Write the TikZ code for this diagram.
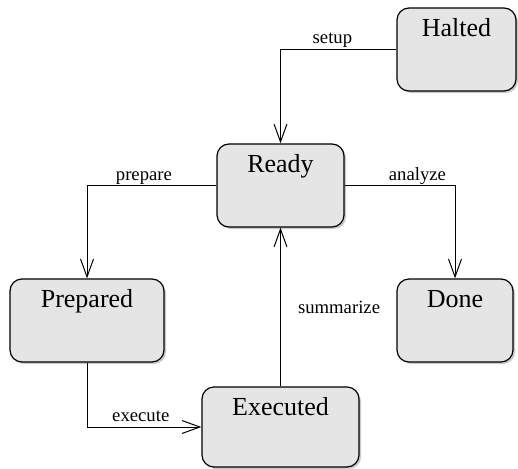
\documentclass[tikz,border=0pt]{standalone}
\usepackage{fontspec}
\setmainfont{Liberation Serif}
\usetikzlibrary{arrows.meta,shadows}
\begin{document}
\begin{tikzpicture}[x=1pt,y=-1pt,
  state/.style={draw=black, line width=1.2pt, fill=black!10, rounded corners=12pt,
    rectangle, inner sep=0pt,
    drop shadow={shadow xshift=2pt, shadow yshift=-2pt, opacity=0.35, fill=black!60}},
  statename/.style={anchor=base, yshift=-29pt, inner sep=0pt, font=\fontsize{26}{30}\selectfont},
  trans/.style={draw=black, line width=1pt,
    -{Straight Barb[length=18pt, width=13pt, line width=1pt]}},
  tlabel/.style={font=\fontsize{18.7}{22}\selectfont, inner sep=0pt},
]
\useasboundingbox (0,0) rectangle (518,468);

% states
\node[state, minimum width=119pt, minimum height=83pt] (halted) at (456.5,49.5) {};
\node[statename] at (halted.north) {Halted};
\node[state, minimum width=127pt, minimum height=83pt] (ready) at (280.5,185.5) {};
\node[statename] at (ready.north) {Ready};
\node[state, minimum width=154pt, minimum height=83pt] (prepared) at (87,320.5) {};
\node[statename] at (prepared.north) {Prepared};
\node[state, minimum width=116pt, minimum height=83pt] (done) at (455,320.5) {};
\node[statename] at (done.north) {Done};
\node[state, minimum width=157pt, minimum height=80pt] (executed) at (280.5,427) {};
\node[statename] at (executed.north) {Executed};

% transitions
\draw[trans] (halted.west) -| node[tlabel, pos=0.276, anchor=base, yshift=6pt] {setup} (ready.north);
\draw[trans] (ready.west) -| node[tlabel, pos=0.28, anchor=base, yshift=5.5pt] {prepare} (prepared.north);
\draw[trans] (ready.east) -| node[tlabel, pos=0.33, anchor=base, yshift=5.5pt] {analyze} (done.north);
\draw[trans] (prepared.south) |- node[tlabel, pos=0.735, anchor=base, yshift=5.5pt] {execute} (executed.west);
\draw[trans] (executed.north) -- node[tlabel, anchor=west, xshift=17pt] {summarize} (ready.south);
\end{tikzpicture}
\end{document}
